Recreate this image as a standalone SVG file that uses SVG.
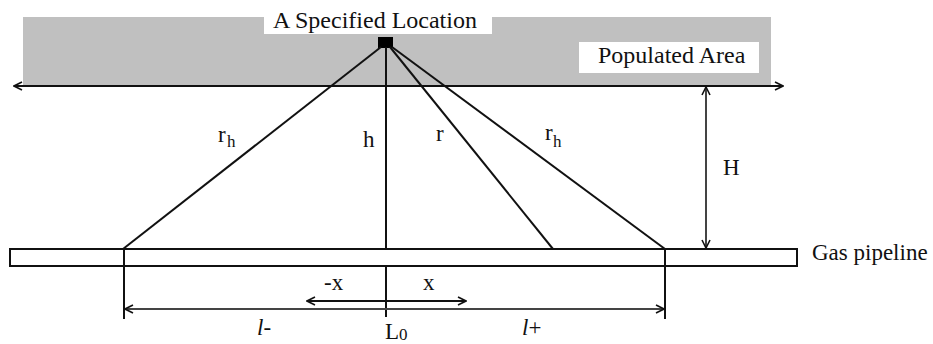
<svg xmlns="http://www.w3.org/2000/svg" width="933" height="344" viewBox="0 0 933 344">
<defs>
<style>
text{font-family:"Liberation Serif","DejaVu Serif","Noto Serif",serif;fill:#111}
.ln{stroke:#111;stroke-width:2;fill:none}
.dim{stroke:#444;stroke-width:2;fill:none}
.big{font-size:24px}
.lab{font-size:23px}
.sub{font-size:17px}
</style>
<marker id="ah" viewBox="0 0 10 10" refX="9" refY="5" markerWidth="10" markerHeight="10" markerUnits="userSpaceOnUse" orient="auto-start-reverse">
<path d="M1,1 L9,5 L1,9" fill="none" stroke="#111" stroke-width="1.6"/>
</marker>
</defs>
<rect width="933" height="344" fill="#fff"/>
<g id="populated-area">
<rect x="23" y="17" width="748" height="69" fill="#c0c0c0"/>
<rect x="264" y="0" width="228" height="34" fill="#fff"/>
<rect x="579" y="42" width="180" height="31" fill="#fff"/>
<text class="big" x="598" y="63">Populated Area</text>
</g>
<g id="location">
<text class="big" x="273" y="28">A Specified Location</text>
<rect x="378" y="37" width="15" height="11" fill="#000"/>
</g>
<g id="pipeline">
<rect x="10" y="249" width="787" height="17" fill="#fff" stroke="#111" stroke-width="2"/>
<text class="lab" x="812" y="260">Gas pipeline</text>
</g>
<g id="connectors">
<line class="ln" x1="14" y1="86" x2="783" y2="86" marker-start="url(#ah)" marker-end="url(#ah)"/>
<line class="ln" x1="381" y1="47" x2="123" y2="249"/>
<line class="ln" x1="386" y1="47" x2="386" y2="249"/>
<line class="ln" x1="390" y1="47" x2="553" y2="249"/>
<line class="ln" x1="392" y1="47" x2="665" y2="249"/>
<line class="dim" x1="706" y1="87" x2="706" y2="248" marker-start="url(#ah)" marker-end="url(#ah)"/>
<line class="ln" x1="124" y1="249" x2="124" y2="319"/>
<line class="ln" x1="665" y1="249" x2="665" y2="319"/>
<line class="ln" x1="386" y1="266" x2="386" y2="317"/>
<line class="dim" x1="125" y1="309" x2="664" y2="309" marker-start="url(#ah)" marker-end="url(#ah)"/>
<line class="ln" x1="307" y1="301" x2="466" y2="301" marker-start="url(#ah)" marker-end="url(#ah)"/>
</g>
<g id="labels">
<text class="lab" x="218" y="142">r</text><text class="sub" x="227" y="147">h</text>
<text class="lab" x="363" y="147">h</text>
<text class="lab" x="436" y="141">r</text>
<text class="lab" x="545" y="140">r</text><text class="sub" x="553" y="147">h</text>
<text class="lab" x="723" y="175">H</text>
<text class="lab" x="324" y="290">-x</text>
<text class="lab" x="423" y="290">x</text>
<text class="lab" x="257" y="335"><tspan font-style="italic">l</tspan>-</text>
<text class="lab" x="522" y="335"><tspan font-style="italic">l</tspan>+</text>
<text class="lab" x="385" y="339">L</text><text class="sub" x="399" y="340">0</text>
</g>
</svg>
